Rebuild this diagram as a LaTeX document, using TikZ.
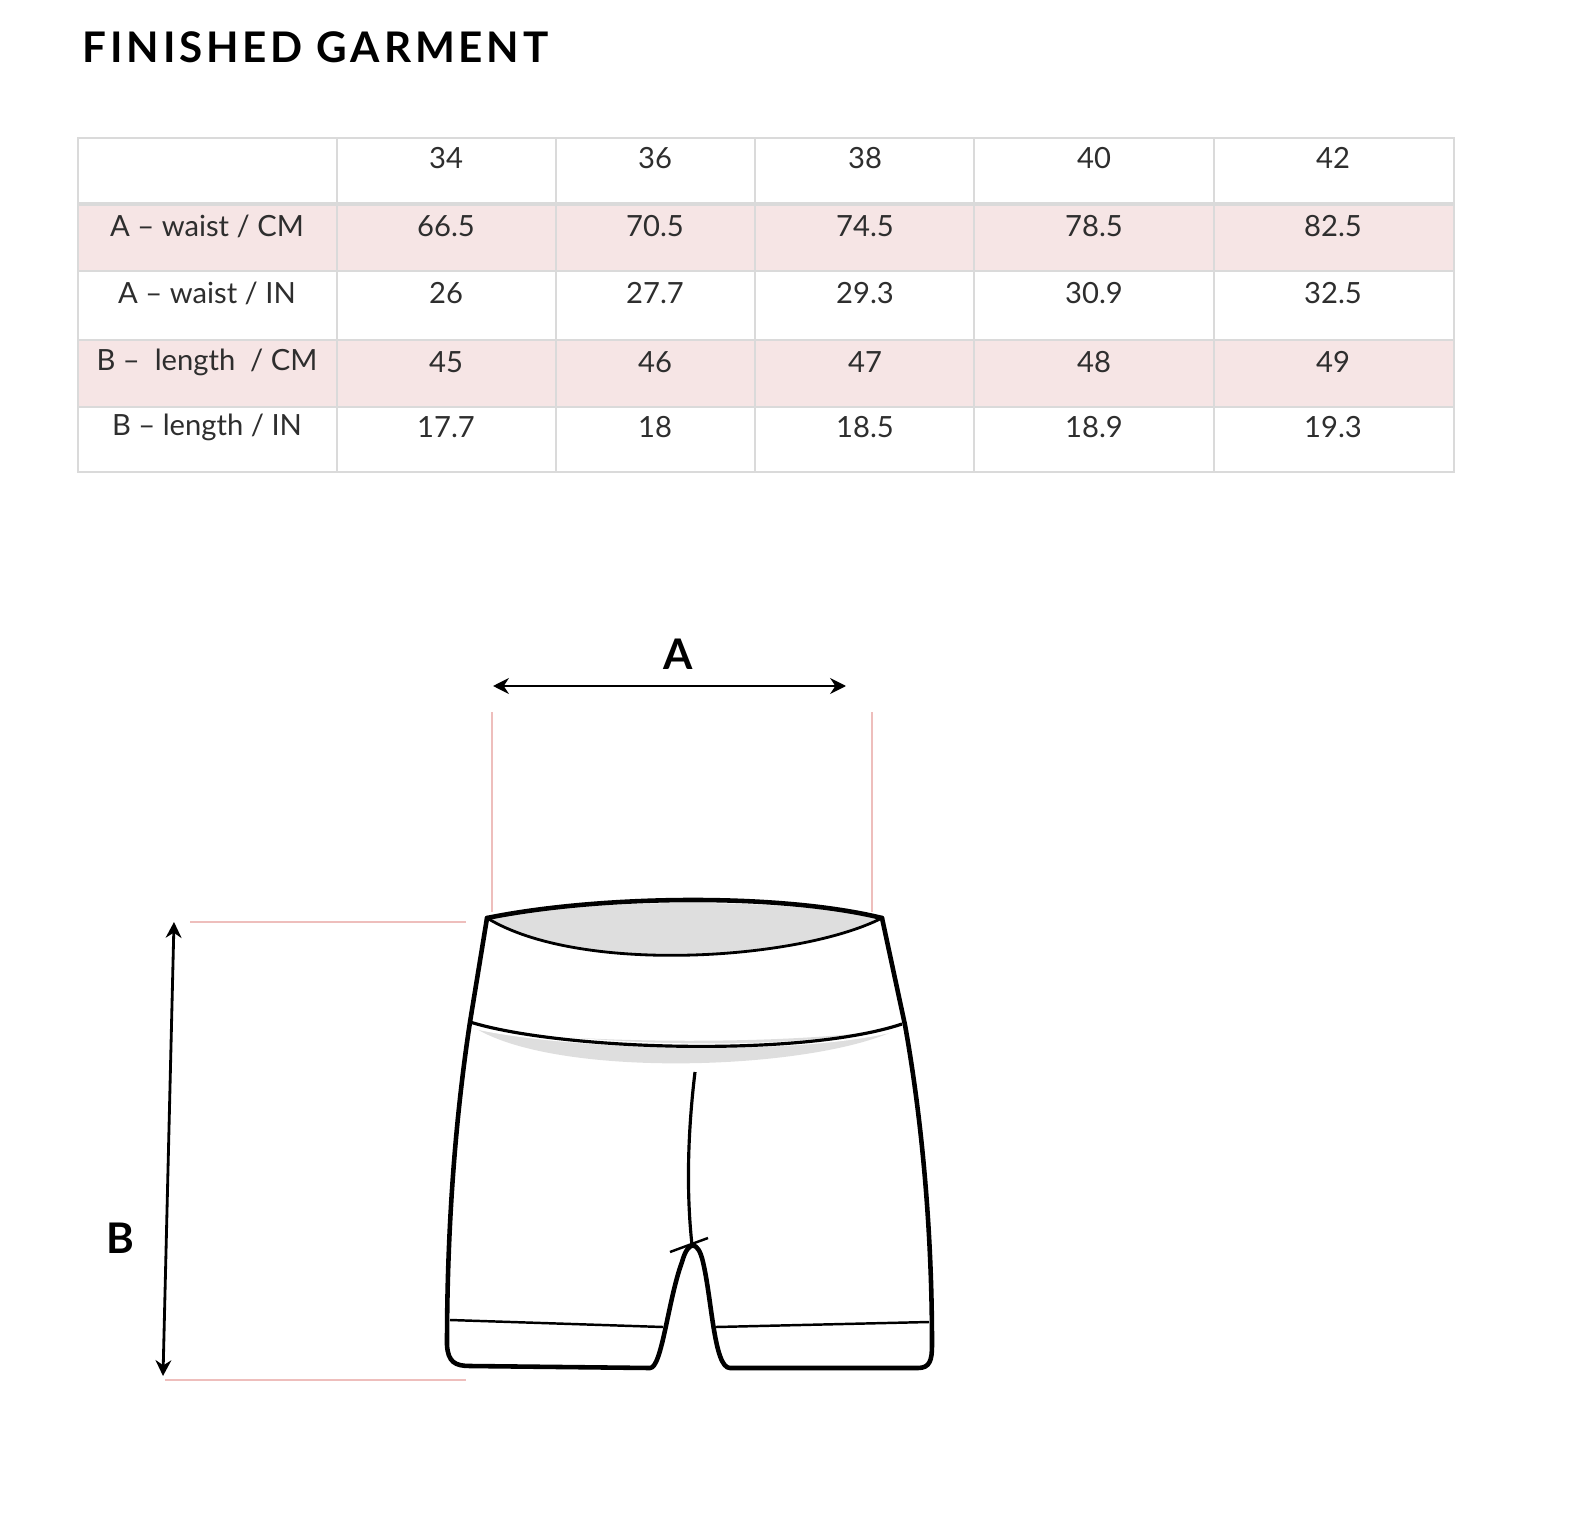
\documentclass[tikz,border=0pt]{standalone}
\usepackage{fontspec}
\setmainfont{Lato}
\usetikzlibrary{arrows.meta}
\definecolor{rowpink}{RGB}{246,229,229}
\definecolor{guide}{RGB}{238,190,188}
\definecolor{grid}{RGB}{218,218,218}
\definecolor{shadegray}{RGB}{222,222,222}
\begin{document}
\begin{tikzpicture}[x=0.01cm,y=-0.01cm,
  cell/.style={font=\fontsize{8.3}{9}\selectfont, text=black!82, anchor=center},
  outline/.style={line width=1.3pt, line join=round, line cap=round},
  thin/.style={line width=0.5pt},
  dim/.style={line width=0.8pt, {Stealth[length=4.5pt,width=4.5pt]}-{Stealth[length=4.5pt,width=4.5pt]}},
  guideline/.style={guide, line width=0.5pt}]
\useasboundingbox (0,0) rectangle (1588,1528);
\node[anchor=west, inner sep=0pt, font=\fontsize{12}{14}\selectfont\bfseries\addfontfeature{LetterSpace=9}] (title) at (82,47) {FINISHED GARMENT};
% table
\fill[rowpink] (78,204) rectangle (1454,271);
\fill[rowpink] (78,340) rectangle (1454,407);
\draw[grid, line width=0.5pt] (78,138) rectangle (1454,472);
\draw[grid, line width=1pt] (78,204) -- (1454,204);
\foreach \y in {271,340,407} \draw[grid, line width=0.5pt] (78,\y) -- (1454,\y);
\foreach \x in {337,556,755,974,1214} \draw[grid, line width=0.5pt] (\x,138) -- (\x,472);
\foreach \x/\t in {446/34,655/36,865/38,1094/40,1333/42} \node[cell] (h\t) at (\x,158) {\t};
\foreach \r/\y/\lab/\a/\b/\c/\d/\e in {
  1/226/{A -- waist / CM}/66.5/70.5/74.5/78.5/82.5,
  2/293/{A -- waist / IN}/26/27.7/29.3/30.9/32.5,
  3/362/{B --\ \ length\ \ / CM}/45/46/47/48/49,
  4/427/{B -- length / IN}/17.7/18/18.5/18.9/19.3}{
  \node[cell] (l\r) at (207,\y) {\lab};
  \node[cell] (a\r) at (446,\y) {\a};
  \node[cell] (b\r) at (655,\y) {\b};
  \node[cell] (c\r) at (865,\y) {\c};
  \node[cell] (d\r) at (1094,\y) {\d};
  \node[cell] (e\r) at (1333,\y) {\e};
}
% guides
\draw[guideline] (492,712) -- (492,912);
\draw[guideline] (872,712) -- (872,912);
\draw[guideline] (190,922) -- (466,922);
\draw[guideline] (165,1380) -- (466,1380);
% dimension arrows
\coordinate (a1) at (493,686); \coordinate (a2) at (846,686);
\draw[dim] (a1) -- (a2);
\node[font=\fontsize{12}{14}\selectfont\bfseries] (A) at (678,654) {A};
\coordinate (b1) at (174,922); \coordinate (b2) at (163,1376);
\draw[dim] (b1) -- (b2);
\node[font=\fontsize{12}{14}\selectfont\bfseries] (B) at (120,1238) {B};
% shorts shading
\fill[shadegray] (487,918) .. controls (600,898) and (780,898) .. (882,918)
  .. controls (800,960) and (580,975) .. (487,918) -- cycle;
\fill[shadegray] (475,1028) .. controls (580,1045) and (800,1045) .. (900,1028)
  .. controls (820,1070) and (560,1080) .. (475,1028) -- cycle;
\fill[white] (470,1022) .. controls (560,1045) and (800,1055) .. (902,1024) -- (902,1030) .. controls (800,1058) and (560,1050) .. (470,1028) -- cycle;
% outline
\draw[outline] (487,918) .. controls (600,895) and (780,893) .. (882,918);
\draw[line width=0.8pt] (487,918) .. controls (580,975) and (800,960) .. (882,918);
\draw[outline] (487,918) -- (470,1022) .. controls (455,1120) and (447,1230) .. (447,1345)
  .. controls (448,1362) and (455,1366) .. (470,1366) -- (650,1368)
  .. controls (662,1368) and (668,1300) .. (682,1262) .. controls (688,1240) and (698,1240) .. (703,1262)
  .. controls (712,1300) and (714,1368) .. (730,1368) -- (918,1368)
  .. controls (930,1368) and (932,1360) .. (932,1345)
  .. controls (932,1230) and (922,1120) .. (905,1025) -- (882,918);
\draw[line width=0.9pt] (470,1022) .. controls (560,1050) and (800,1058) .. (902,1024);
\draw[line width=0.9pt] (695,1072) .. controls (688,1130) and (686,1190) .. (692,1245);
\draw[line width=0.7pt] (670,1252) -- (708,1238);
\draw[line width=0.7pt] (450,1320) -- (663,1327);
\draw[line width=0.7pt] (716,1327) -- (929,1322);
\end{tikzpicture}
\end{document}
